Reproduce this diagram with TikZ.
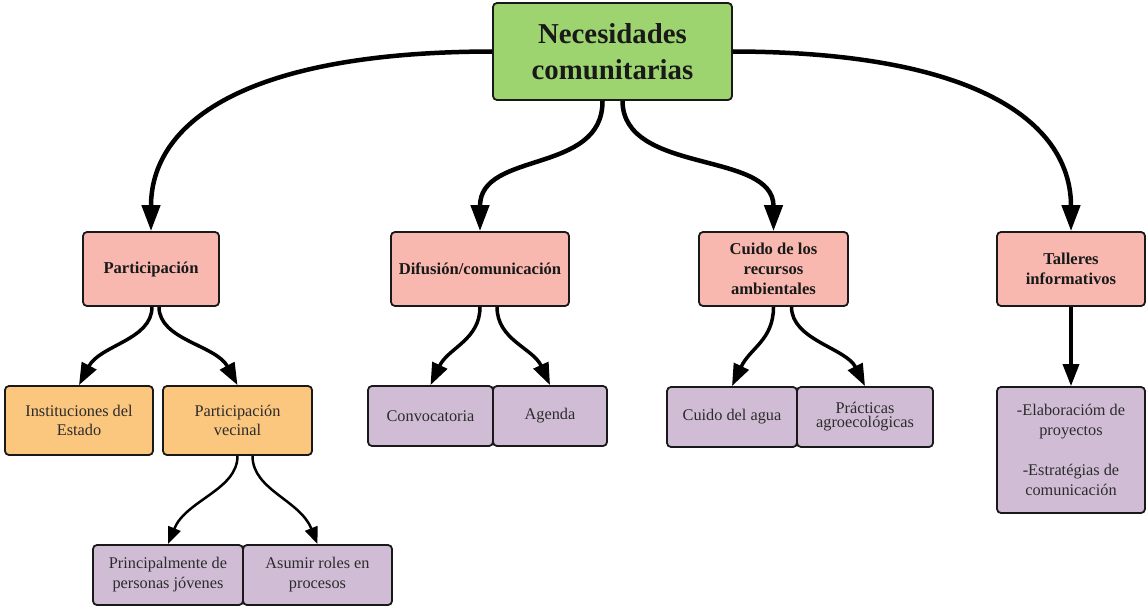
\documentclass[tikz,border=0pt]{standalone}
\usepackage{fontspec}
\setmainfont{Liberation Serif}
\usetikzlibrary{arrows.meta}
\definecolor{cgreen}{HTML}{9DD46F}
\definecolor{cpink}{HTML}{F9B8AF}
\definecolor{corange}{HTML}{FBC67E}
\definecolor{cpurple}{HTML}{D0BDD5}
\definecolor{ctext}{HTML}{2B2B2B}
\tikzset{
  box/.style={draw=black!90, line width=1.8pt, rounded corners=4pt, inner sep=0pt, align=center, text=ctext},
  rootbox/.style={box, fill=cgreen, text=black!90, font=\fontsize{28.8}{36}\selectfont\bfseries},
  lvlone/.style={box, fill=cpink, text=black!90, font=\fontsize{16.6}{20}\selectfont\bfseries},
  lvlorange/.style={box, fill=corange, font=\fontsize{16.3}{19}\selectfont},
  lvlpurple/.style={box, fill=cpurple, font=\fontsize{16.3}{20}\selectfont},
  arrbig/.style={line width=4.5pt, -{Triangle[length=26pt,width=18pt]}},
  arrmid/.style={line width=3.5pt, -{Triangle[length=22pt,width=16pt]}},
  arrsmall/.style={line width=2.5pt, -{Triangle[length=17pt,width=13pt]}}
}
\begin{document}
\begin{tikzpicture}[x=1pt,y=-1pt]
\useasboundingbox[fill=white] (0,0) rectangle (1146,607);
% nodes
\node[rootbox, minimum width=239pt, minimum height=97pt] (root) at (612.5,51.5) {Necesidades\\comunitarias};
\node[lvlone, minimum width=136pt, minimum height=74pt] (part) at (151,269) {Participación};
\node[lvlone, minimum width=178pt, minimum height=74pt] (dif) at (480,269) {Difusión/comunicación};
\node[lvlone, minimum width=149pt, minimum height=74pt] (cuido) at (773.5,269) {Cuido de los\\recursos\\ambientales};
\node[lvlone, minimum width=148pt, minimum height=74pt] (tall) at (1071,269) {Talleres\\informativos};
\node[lvlorange, minimum width=148pt, minimum height=69pt] (inst) at (79,420.5) {Instituciones del\\Estado};
\node[lvlorange, minimum width=149pt, minimum height=69pt] (vec) at (237.5,420.5) {Participación\\vecinal};
\node[lvlpurple, minimum width=125pt, minimum height=60pt] (conv) at (430.5,416) {Convocatoria};
\node[lvlpurple, minimum width=114pt, minimum height=60pt] (agen) at (550,416) {\raisebox{4pt}{Agenda}};
\node[lvlpurple, minimum width=130pt, minimum height=60pt] (agua) at (732,417) {Cuido del agua};
\node[lvlpurple, minimum width=136pt, minimum height=60pt] (prac) at (865,417) {\raisebox{4pt}{\shortstack{Prácticas\\agroecológicas}}};
\node[lvlpurple, minimum width=148pt, minimum height=126pt] (elab) at (1071,450) {-Elaboracióm de\\proyectos\\[20pt]-Estratégias de\\comunicación};
\node[lvlpurple, minimum width=150pt, minimum height=60pt] (prin) at (168,575) {Principalmente de\\personas jóvenes};
\node[lvlpurple, minimum width=149pt, minimum height=60pt] (asum) at (317.5,575) {Asumir roles en\\procesos};
% root connectors
\draw[arrbig] (root.west) .. controls (240,52) and (151,125) .. (part.north);
\draw[arrbig] (root.east) .. controls (982,52) and (1071,125) .. (tall.north);
\draw[arrbig] ([xshift=-10pt]root.south) .. controls (603,175) and (480,150) .. (dif.north);
\draw[arrbig] ([xshift=10pt]root.south) .. controls (623,175) and (773.5,150) .. (cuido.north);
% second level
\draw[arrmid] ([xshift=1pt]part.south) .. controls (152,340) and (100,345) .. (inst.north);
\draw[arrmid] ([xshift=8pt]part.south) .. controls (159,340) and (216,345) .. (vec.north);
\draw[arrmid] (dif.south) .. controls (480,340) and (448,348) .. (conv.north);
\draw[arrmid] ([xshift=17pt]dif.south) .. controls (497,340) and (533,348) .. (agen.north);
\draw[arrmid] (cuido.south) .. controls (773.5,340) and (750,348) .. (agua.north);
\draw[arrmid] ([xshift=18pt]cuido.south) .. controls (791.5,340) and (846,348) .. (prac.north);
\draw[arrmid] (tall.south) -- (elab.north);
% third level
\draw[arrsmall] (vec.south) .. controls (237.5,490) and (186,500) .. (prin.north);
\draw[arrsmall] ([xshift=15pt]vec.south) .. controls (252.5,490) and (300,500) .. (asum.north);
\end{tikzpicture}
\end{document}
